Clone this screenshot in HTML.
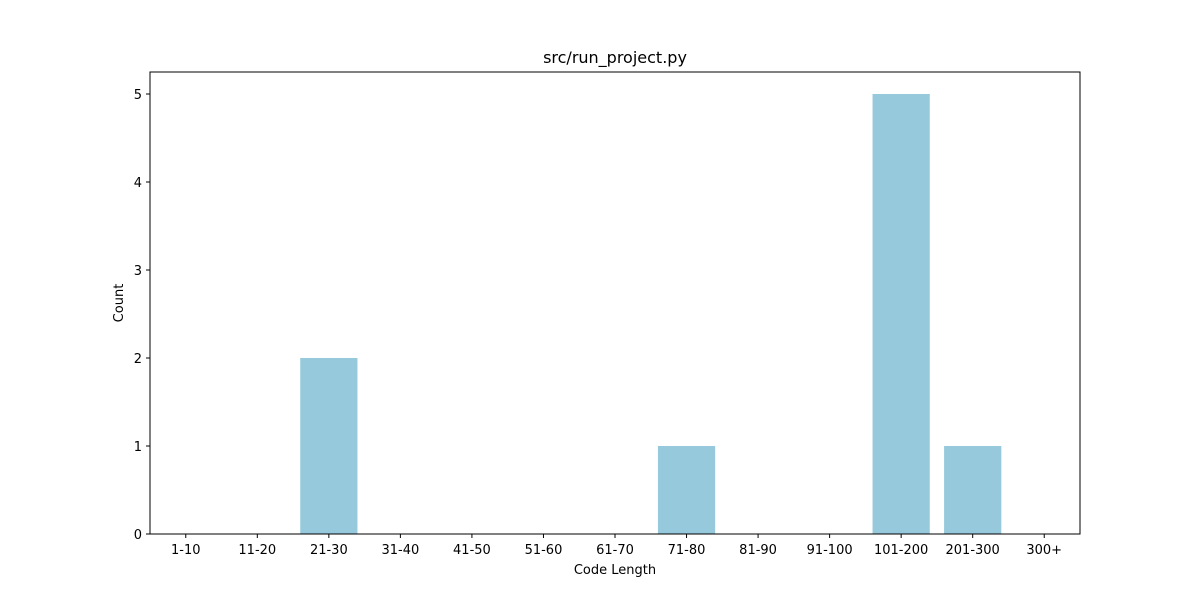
<!DOCTYPE html>
<html><head><meta charset="utf-8"><style>
body{margin:0;background:#fff;font-family:"Liberation Sans","DejaVu Sans",sans-serif;}
svg text{font-family:"DejaVu Sans","Liberation Sans",sans-serif;font-size:13px;fill:#000}
</style></head><body>
<svg id="chart" width="1200" height="600" xmlns="http://www.w3.org/2000/svg"></svg>
<script>
const categories=["1-10","11-20","21-30","31-40","41-50","51-60","61-70","71-80","81-90","91-100","101-200","201-300","300+"];
const counts=[0,0,2,0,0,0,0,1,0,0,5,1,0];
const yTicks=[0,1,2,3,4,5];
const L=150,R=1080,T=72,B=534,yMax=5.25;
const NS="http://www.w3.org/2000/svg";
const svg=document.getElementById('chart');
const xs=i=>L+(i+0.5)*(R-L)/categories.length;
const ys=v=>B-v*(B-T)/yMax;
const bw=0.8*(R-L)/categories.length;
function mk(t,a,p){const e=document.createElementNS(NS,t);for(const k in a)e.setAttribute(k,a[k]);(p||svg).appendChild(e);return e;}
counts.forEach((v,i)=>{
 const r=mk('rect',{x:xs(i)-bw/2,y:ys(v),width:bw,height:B-ys(v),fill:'#96c9dc'});
 
 
});
const frame=mk('rect',{x:L,y:T,width:R-L,height:B-T,fill:'none',stroke:'#000','stroke-width':1});


categories.forEach((c,i)=>{
 mk('line',{x1:xs(i),x2:xs(i),y1:B,y2:B+4,stroke:'#000'});
 const t=mk('text',{x:xs(i),y:B+20,'text-anchor':'middle'});t.textContent=c;
 
 
});
yTicks.forEach(v=>{
 mk('line',{x1:L-4,x2:L,y1:ys(v),y2:ys(v),stroke:'#000'});
 const t=mk('text',{x:L-8,y:ys(v)+5,'text-anchor':'end'});t.textContent=v;
 
 
});
let t=mk('text',{x:(L+R)/2,y:63,'text-anchor':'middle',style:'font-size:16px'});t.textContent='src/run_project.py';


t=mk('text',{x:(L+R)/2,y:574,'text-anchor':'middle'});t.textContent='Code Length';


t=mk('text',{x:123,y:(T+B)/2,'text-anchor':'middle',transform:'rotate(-90 123 '+(T+B)/2+')'});t.textContent='Count';


</script>
</body></html>
